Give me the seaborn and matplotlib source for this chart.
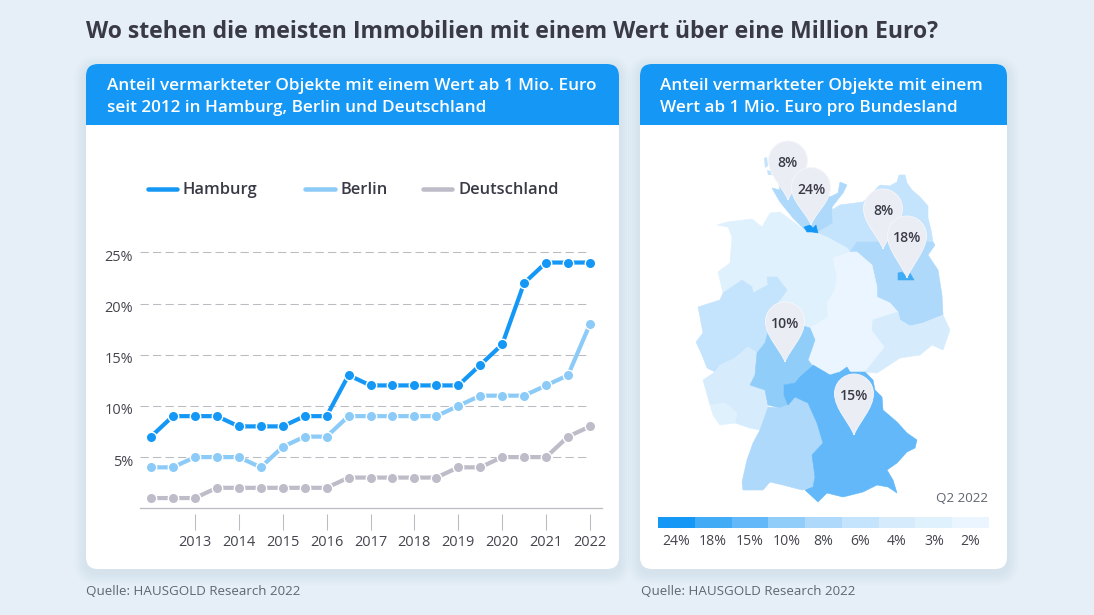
import numpy as np
import pandas as pd
import matplotlib
matplotlib.use('Agg')
import matplotlib.pyplot as plt
import seaborn as sns
from matplotlib.colors import ListedColormap
from matplotlib.patches import FancyBboxPatch, PathPatch, Polygon, Rectangle
from matplotlib.path import Path
from matplotlib.transforms import ScaledTranslation

# chart data
half_years = [2012 + i * 0.5 for i in range(21)]
hamburg = [7, 9, 9, 9, 8, 8, 8, 9, 9, 13, 12, 12, 12, 12, 12, 14, 16, 22, 24, 24, 24]
berlin = [4, 4, 5, 5, 5, 4, 6, 7, 7, 9, 9, 9, 9, 9, 10, 11, 11, 11, 12, 13, 18]
deutschland = [1, 1, 1, 2, 2, 2, 2, 2, 2, 3, 3, 3, 3, 3, 4, 4, 5, 5, 5, 7, 8]
year_ticks = list(range(2013, 2023))
pct_ticks = [5, 10, 15, 20, 25]

scale_labels = ['24%', '18%', '15%', '10%', '8%', '6%', '4%', '3%', '2%']
scale_colors = ['#1598F5', '#42ABF6', '#62B8F8', '#90CDF9', '#AED9FB',
                '#C4E3FC', '#D6ECFD', '#E0F1FE', '#EAF5FF']

pin_labels = ['8%', '24%', '8%', '18%', '10%', '15%']
pin_x = [788, 811, 883, 907, 785, 854]
pin_head_y = [160.5, 187, 208.5, 235.5, 321.5, 393.5]
pin_tip_y = [200, 225, 249, 278, 362, 435]

# state outlines (pixel coordinates)
outlines = {
    'SH': [(772, 188), (780, 190), (775, 165), (795, 165), (830, 197), (838, 193), (840, 182), (847, 185),
           (843, 193), (832, 207), (833, 223), (817, 233), (807, 232), (793, 218), (780, 202)],
    'MV': [(832, 210), (840, 205), (863, 202), (880, 185), (890, 186), (897, 182), (899, 175), (905, 175),
           (907, 183), (912, 190), (920, 197), (928, 206), (928, 218), (931, 230), (933, 242), (857, 242),
           (850, 252), (847, 248), (827, 237), (817, 233), (833, 223)],
    'BB': [(857, 242), (933, 242), (935, 245), (928, 255), (938, 270), (942, 295), (943, 315), (923, 323),
           (910, 326), (900, 320), (898, 312), (890, 303), (877, 297), (877, 287), (872, 265), (857, 252),
           (850, 252)],
    'NI': [(717, 225), (727, 222), (752, 219), (762, 227), (770, 213), (780, 212), (807, 232), (817, 233),
           (827, 237), (847, 248), (850, 252), (833, 258), (837, 277), (835, 290), (827, 303), (828, 317),
           (810, 328), (800, 325), (770, 325), (772, 307), (780, 300), (787, 290), (777, 277), (767, 277),
           (768, 285), (753, 293), (752, 287), (742, 280), (723, 293), (718, 272), (730, 263), (732, 237),
           (728, 227)],
    'ST': [(850, 252), (857, 252), (872, 265), (877, 287), (877, 297), (890, 303), (898, 312), (873, 320),
           (872, 330), (835, 335), (810, 328), (828, 317), (827, 303), (835, 290), (837, 277), (833, 258)],
    'TH': [(810, 328), (835, 335), (872, 330), (885, 347), (877, 357), (865, 372), (850, 372), (847, 367),
           (840, 372), (830, 375), (812, 365), (808, 360), (815, 340)],
    'SN': [(873, 320), (898, 312), (900, 320), (910, 326), (923, 323), (943, 315), (950, 330), (943, 350),
           (932, 345), (920, 355), (900, 358), (877, 373), (865, 372), (877, 357), (885, 347), (872, 330)],
    'NW': [(698, 307), (720, 300), (723, 293), (742, 280), (752, 287), (753, 293), (768, 285), (767, 277),
           (777, 277), (787, 290), (780, 300), (772, 307), (770, 325), (765, 343), (757, 353), (748, 347),
           (735, 358), (720, 365), (715, 372), (707, 368), (702, 355), (696, 342), (703, 333), (700, 317)],
    'RP': [(715, 372), (720, 365), (735, 358), (748, 347), (757, 353), (755, 375), (750, 385), (765, 390),
           (768, 405), (760, 430), (750, 428), (735, 423), (737, 413), (725, 403), (710, 405), (703, 380)],
    'SL': [(710, 405), (725, 403), (737, 413), (735, 423), (720, 425), (713, 415)],
    'HE': [(757, 353), (765, 343), (770, 325), (800, 325), (810, 328), (815, 340), (808, 360), (812, 365),
           (800, 377), (795, 383), (784, 385), (788, 405), (780, 408), (768, 405), (765, 390), (750, 385),
           (755, 375)],
    'BW': [(768, 407), (780, 408), (788, 405), (795, 397), (808, 403), (817, 423), (823, 443), (812, 455),
           (815, 477), (813, 487), (802, 490), (783, 485), (770, 482), (763, 490), (743, 490), (742, 482),
           (747, 460), (753, 443), (760, 430)],
    'BY': [(784, 385), (795, 383), (800, 377), (813, 365), (830, 375), (840, 372), (847, 367), (850, 372),
           (865, 372), (873, 380), (875, 390), (882, 397), (883, 410), (897, 422), (907, 433), (917, 440),
           (915, 448), (907, 452), (897, 463), (887, 470), (893, 480), (897, 493), (888, 487), (877, 485),
           (863, 492), (843, 497), (827, 493), (818, 502), (805, 490), (813, 487), (815, 477), (812, 455),
           (823, 443), (817, 423), (808, 403), (795, 397), (788, 405), (784, 395)],
    'BE': [(898, 273), (902, 272), (907, 277), (910, 273), (914, 280), (907, 280), (898, 280)],
    'HH': [(804, 227), (810, 225), (813, 228), (816, 225), (818, 233), (812, 232), (807, 232)],
}
state_colors = {'SH': '#AED9FB', 'MV': '#C4E3FC', 'BB': '#AED9FB', 'NI': '#E0F1FE', 'ST': '#EAF5FF',
                'TH': '#EAF5FF', 'SN': '#D6ECFD', 'NW': '#C4E3FC', 'HE': '#90CDF9', 'RP': '#D6ECFD',
                'SL': '#E0F1FE', 'BW': '#AED9FB', 'BY': '#62B8F8', 'BE': '#42ABF6', 'HH': '#1598F5'}

sns.set_theme(style='white')
plt.rcParams['font.family'] = ['Open Sans', 'DejaVu Sans']

DARK = '#3A3A46'
TEXT = '#44444F'
GREY = '#BBBBC2'
BG = '#E6EFF8'
BLUE = '#1598F5'
W, H = 1094, 615


def px(size):
    return size * 72 / 100


def rounded(ax, x0, y0, x1, y1, r, **kw):
    ax.add_patch(FancyBboxPatch((x0, y0), x1 - x0, y1 - y0,
                                boxstyle=f'round,pad=0,rounding_size={r}', **kw))


def card(ax, x0, y0, x1, y1, head_y):
    # soft shadow
    for grow in range(12, 0, -2):
        rounded(ax, x0 - grow, y0 - grow + 4, x1 + grow, y1 + grow + 4, 12 + grow,
                fc='#9DB4CC', ec='none', alpha=0.03)
    rounded(ax, x0, y0, x1, y1, 12, fc='white', ec='none')
    rounded(ax, x0, y0, x1, y0 + 40, 12, fc=BLUE, ec='none')
    ax.add_patch(Rectangle((x0, y0 + 20), x1 - x0, head_y - y0 - 20, fc=BLUE, ec='none'))


def pin(ax, cx, cy, tip_y, label):
    r = 19.5
    verts = [(cx, tip_y),
             (cx + 5, tip_y - 13), (cx + r, cy + 15), (cx + r, cy),
             (cx + r, cy - r * 0.55), (cx + r * 0.55, cy - r), (cx, cy - r),
             (cx - r * 0.55, cy - r), (cx - r, cy - r * 0.55), (cx - r, cy),
             (cx - r, cy + 15), (cx - 5, tip_y - 13), (cx, tip_y)]
    codes = [Path.MOVETO] + [Path.CURVE4] * 12
    ax.add_patch(PathPatch(Path(verts, codes), fc='#EBEDF5', ec='#F6F7FB', lw=0.6))
    ax.text(cx, cy + 2.5, label, ha='center', va='center', fontsize=px(14),
            color=DARK, fontweight='semibold')


fig = plt.figure(figsize=(W / 100, H / 100), dpi=100, facecolor=BG)

# page layer in pixel coordinates
page = fig.add_axes([0, 0, 1, 1])
page.set_xlim(0, W)
page.set_ylim(H, 0)
page.axis('off')

card(page, 86, 64, 619, 569, 125)
card(page, 640, 64, 1007, 569, 125)

page.text(86, 32, 'Wo stehen die meisten Immobilien mit einem Wert über eine Million Euro?',
          fontsize=px(23), fontweight='bold', color=DARK, va='center')
page.text(107, 86.5, 'Anteil vermarkteter Objekte mit einem Wert ab 1 Mio. Euro',
          fontsize=px(17.15), fontweight='semibold', color='white', va='center')
page.text(107, 107.5, 'seit 2012 in Hamburg, Berlin und Deutschland',
          fontsize=px(17.15), fontweight='semibold', color='white', va='center')
page.text(660, 86.5, 'Anteil vermarkteter Objekte mit einem',
          fontsize=px(17.15), fontweight='semibold', color='white', va='center')
page.text(660, 107.5, 'Wert ab 1 Mio. Euro pro Bundesland',
          fontsize=px(17.15), fontweight='semibold', color='white', va='center')
page.text(86, 591.5, 'Quelle: HAUSGOLD Research 2022', fontsize=px(13.4), color='#5F6670', va='center')
page.text(641, 591.5, 'Quelle: HAUSGOLD Research 2022', fontsize=px(13.4), color='#5F6670', va='center')
page.text(988, 499, 'Q2 2022', fontsize=px(13.4), color='#5F6670', va='center', ha='right')

# legend
series_colors = {'Hamburg': BLUE, 'Berlin': '#8CCBF7', 'Deutschland': '#BDBCC8'}
for name, x0, x1, tx in [('Hamburg', 148, 177, 182.5), ('Berlin', 305, 335, 340), ('Deutschland', 423, 452, 458)]:
    page.plot([x0, x1], [188.5, 188.5], color=series_colors[name], lw=px(4.5), solid_capstyle='round')
    page.text(tx, 190.5, name, fontsize=px(16.5), fontweight='semibold', color=DARK, va='center')

# map
for code, outline in outlines.items():
    page.add_patch(Polygon(outline, closed=True, fc=state_colors[code], ec=state_colors[code], lw=0.4))
for isle in ([(764, 158), (767, 157), (768, 166), (765, 168)], [(767, 170), (771, 171), (772, 175), (768, 175)]):
    page.add_patch(Polygon(isle, closed=True, fc='#C4E3FC', ec='none'))
for label, cx, cy, tip_y in zip(pin_labels, pin_x, pin_head_y, pin_tip_y):
    pin(page, cx, cy, tip_y, label)

# line chart
df = pd.DataFrame({'Jahr': half_years, 'Hamburg': hamburg, 'Berlin': berlin, 'Deutschland': deutschland})
df = df.melt('Jahr', var_name='Region', value_name='Anteil')

ax = fig.add_axes([140 / W, 1 - 508.3 / H, 462 / W, 268.3 / H])
ax.patch.set_alpha(0)
ax.set_xlim(2012 - 11 / 43.9, 2022 + 12 / 43.9)
ax.set_ylim(0, 268.3 / 10.24)
ax.hlines(pct_ticks, ax.get_xlim()[0], 2022, color=GREY, lw=0.75, linestyles=(0, (8, 4)), zorder=1)
sns.lineplot(data=df, x='Jahr', y='Anteil', hue='Region', palette=series_colors, ax=ax, legend=False,
             lw=3, marker='o', markersize=7.5, markeredgecolor='white', markeredgewidth=1, zorder=3, clip_on=False)
sns.despine(ax=ax, left=True)
ax.spines['bottom'].set_color(GREY)
ax.spines['bottom'].set_linewidth(0.9)
ax.set_xlabel('')
ax.set_ylabel('')
ax.set_xticks(year_ticks, [str(y) for y in year_ticks])
ax.set_yticks(pct_ticks, [f'{p}%' for p in pct_ticks])
ax.tick_params(axis='x', length=0, pad=px(27), labelsize=px(14.5), labelcolor=TEXT)
ax.tick_params(axis='y', length=0, pad=px(7), labelsize=px(14.5), labelcolor=TEXT)
shift = ScaledTranslation(0, -3 / 100, fig.dpi_scale_trans)
for lab in ax.get_yticklabels():
    lab.set_transform(lab.get_transform() + shift)
# ticks sit a little below the axis line
ax.vlines(year_ticks, -6 / 268.3, -22 / 268.3, transform=ax.get_xaxis_transform(),
          color=GREY, lw=0.75, clip_on=False)

# colour scale
scale = fig.add_axes([658 / W, 1 - 528 / H, 331 / W, 11 / H])
sns.heatmap([list(range(len(scale_colors)))], cmap=ListedColormap(scale_colors), cbar=False, ax=scale,
            xticklabels=scale_labels, yticklabels=False)
scale.tick_params(axis='x', length=0, pad=px(6), labelsize=px(14), labelcolor=TEXT, labelrotation=0)
scale.set_xlabel('')
scale.set_ylabel('')

fig.savefig('out.png', dpi=100, facecolor=BG)
